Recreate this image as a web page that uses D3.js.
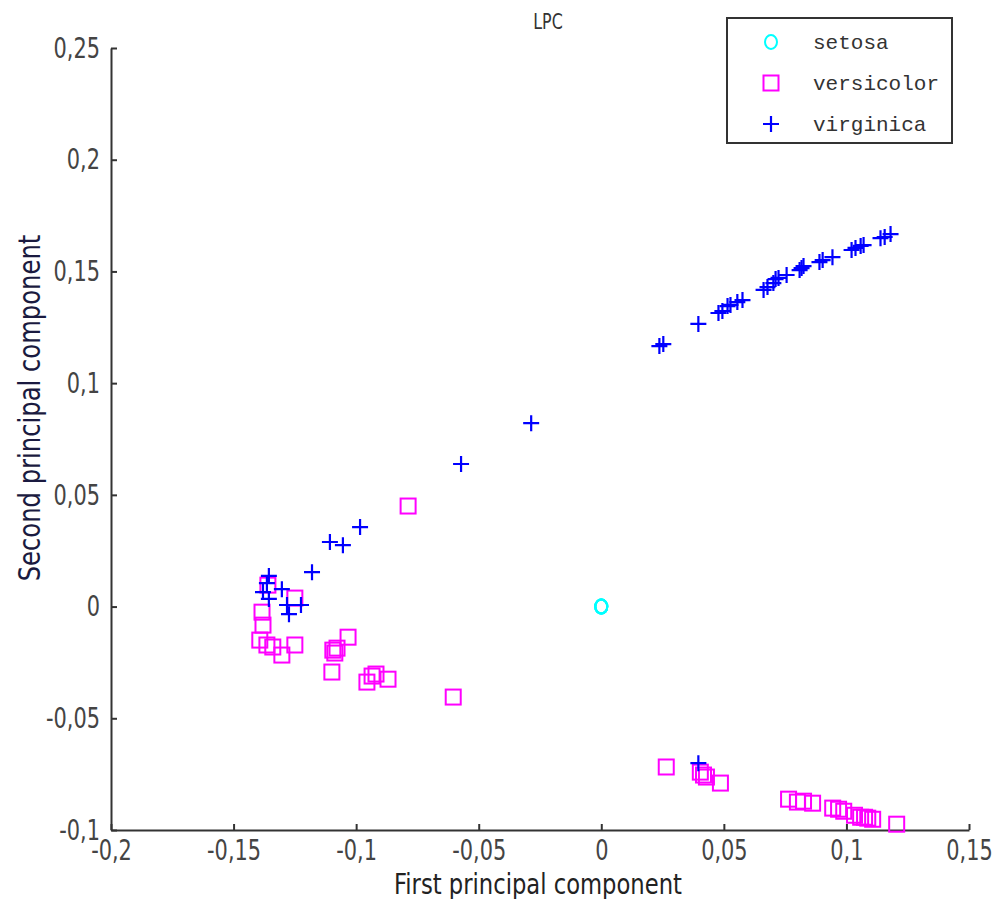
<!DOCTYPE html>
<html>
<head>
<meta charset="utf-8">
<script src="https://cdn.jsdelivr.net/npm/d3@7"></script>
<style>
  body { margin: 0; background: #fff; }
</style>
</head>
<body>
<div id="chart"></div>
<script>
// points, data units
var setosaX = [0, 0, 0, 0, 0];
var setosaY = [0, 0, 0, 0, 0];

var versicolorX = [-0.1360, -0.1250, -0.1384, -0.1380, -0.1393, -0.1364, -0.1340, -0.1303, -0.1250,
  -0.1095, -0.1087, -0.1078, -0.1033, -0.1099, -0.0956, -0.0935, -0.0919, -0.0870, -0.0788, -0.0604,
  0.0265, 0.0404, 0.0417, 0.0429, 0.0486, 0.0764, 0.0800, 0.0825, 0.0862, 0.0944, 0.0968, 0.0989,
  0.1033, 0.1058, 0.1074, 0.1087, 0.1107, 0.1205];
var versicolorY = [0.0096, 0.0038, -0.0025, -0.0083, -0.0150, -0.0172, -0.0181, -0.0217, -0.0172,
  -0.0195, -0.0208, -0.0186, -0.0137, -0.0293, -0.0338, -0.0311, -0.0302, -0.0325, 0.0450, -0.0405,
  -0.0718, -0.0741, -0.0754, -0.0763, -0.0790, -0.0862, -0.0875, -0.0871, -0.0880, -0.0902, -0.0907, -0.0916,
  -0.0934, -0.0943, -0.0943, -0.0947, -0.0952, -0.0974];

var virginicaX = [0.0237, 0.0253, 0.0396, 0.0478, 0.0494, 0.0515, 0.0527, 0.0555, 0.0576, 0.0662,
  0.0678, 0.0702, 0.0711, 0.0723, 0.0756, 0.0809, 0.0817, 0.0825, 0.0890, 0.0903, 0.0943, 0.1021,
  0.1037, 0.1058, 0.1070, 0.1139, 0.1156, 0.1180,
  -0.0286, -0.0572, -0.0984, -0.1107, -0.1054, -0.1180,
  -0.1356, -0.1364, -0.1380, -0.1303, -0.1356, -0.1282, -0.1225, -0.1274, 0.0396];
var virginicaY = [0.1166, 0.1175, 0.1265, 0.1314, 0.1323, 0.1345, 0.1350, 0.1363, 0.1372, 0.1417,
  0.1430, 0.1448, 0.1466, 0.1471, 0.1484, 0.1506, 0.1515, 0.1524, 0.1542, 0.1551, 0.1564, 0.1596,
  0.1605, 0.1614, 0.1618, 0.1649, 0.1654, 0.1667,
  0.0821, 0.0638, 0.0356, 0.0289, 0.0275, 0.0154,
  0.0137, 0.0105, 0.0065, 0.0078, 0.0034, 0.0007, 0.0007, -0.0034, -0.0701];

var xTicks = [-0.2, -0.15, -0.1, -0.05, 0, 0.05, 0.1, 0.15];
var yTicks = [-0.1, -0.05, 0, 0.05, 0.1, 0.15, 0.2, 0.25];
var seriesNames = ["setosa", "versicolor", "virginica"];

var W = 998, H = 899;
var mLeft = 111, mRight = 969, mTop = 48, mBottom = 830;
var narrow = "'Liberation Sans Narrow', 'DejaVu Sans Condensed', 'DejaVu Sans', sans-serif";
var squeeze = 0.8; // the original text is tall and narrow

var svg = d3.select("#chart").append("svg")
  .attr("width", W).attr("height", H);

var x = d3.scaleLinear().domain([-0.2, 0.15]).range([mLeft, mRight]);
var y = d3.scaleLinear().domain([-0.1, 0.25]).range([mBottom, mTop]);

// comma decimals like the original
var loc = d3.formatLocale({decimal: ",", thousands: ".", grouping: [3], currency: ["", ""], minus: "-"});
var fmt = loc.format("~g");

var gx = svg.append("g")
  .attr("transform", "translate(0," + mBottom + ")")
  .call(d3.axisBottom(x).tickValues(xTicks).tickFormat(fmt).tickSizeInner(-6).tickSizeOuter(0).tickPadding(9));
var gy = svg.append("g")
  .attr("transform", "translate(" + mLeft + ",0)")
  .call(d3.axisLeft(y).tickValues(yTicks).tickFormat(fmt).tickSizeInner(-6).tickSizeOuter(0).tickPadding(11));

[gx, gy].forEach(function(g) {
  g.select(".domain").attr("stroke", "#333").attr("stroke-width", 2);
  g.selectAll(".tick line").attr("stroke", "#333").attr("stroke-width", 2);
  g.selectAll(".tick text").attr("fill", "#444")
    .style("font-family", narrow).style("font-size", "29px");
});
gx.selectAll(".tick text").attr("transform", "scale(" + squeeze + ",1)");
gy.selectAll(".tick text").attr("x", -11 / squeeze).attr("transform", "scale(" + squeeze + ",1)");

// title + axis labels
svg.append("text").attr("transform", "translate(548,29) scale(" + squeeze + ",1)").attr("text-anchor", "middle")
  .style("font-family", narrow).style("font-size", "22px").attr("fill", "#333").text("LPC");
svg.append("text").attr("transform", "translate(538,894) scale(0.9,1)").attr("text-anchor", "middle")
  .style("font-family", narrow).style("font-size", "28px").attr("fill", "#222").text("First principal component");
svg.append("text").attr("transform", "translate(40,408) rotate(-90) scale(0.9,1)").attr("text-anchor", "middle")
  .style("font-family", narrow).style("font-size", "30px").attr("fill", "#1a1a40").text("Second principal component");

var plot = svg.append("g");

// markers
function circleMark(sel, color) {
  sel.append("ellipse").attr("rx", 6).attr("ry", 7)
    .attr("fill", "none").attr("stroke", color).attr("stroke-width", 2);
}
function squareMark(sel, color) {
  sel.append("rect").attr("x", -7.5).attr("y", -7.5).attr("width", 15).attr("height", 15)
    .attr("fill", "none").attr("stroke", color).attr("stroke-width", 2);
}
function plusMark(sel, color) {
  sel.append("path").attr("d", "M-8,0H8M0,-8V8")
    .attr("fill", "none").attr("stroke", color).attr("stroke-width", 2.2);
}

var series = [
  {name: seriesNames[0], xs: setosaX, ys: setosaY, color: "#00ffff", mark: circleMark},
  {name: seriesNames[1], xs: versicolorX, ys: versicolorY, color: "#ff00ff", mark: squareMark},
  {name: seriesNames[2], xs: virginicaX, ys: virginicaY, color: "#0000ff", mark: plusMark}
];

series.forEach(function(s) {
  var pts = s.xs.map(function(v, i) { return [v, s.ys[i]]; });
  var g = plot.append("g").selectAll("g").data(pts).enter().append("g")
    .attr("transform", function(d) { return "translate(" + x(d[0]) + "," + y(d[1]) + ")"; });
  s.mark(g, s.color);
});

// legend
var lg = svg.append("g").attr("transform", "translate(727,18)");
lg.append("rect").attr("width", 225).attr("height", 125)
  .attr("fill", "#fff").attr("stroke", "#333").attr("stroke-width", 2);
series.forEach(function(s, i) {
  var row = lg.append("g").attr("transform", "translate(0," + (24 + i * 41) + ")");
  var m = row.append("g").attr("transform", "translate(44,0)");
  s.mark(m, s.color);
  row.append("text").attr("x", 86).attr("y", 0).attr("dy", "0.35em")
    .style("font-family", "'Liberation Mono', 'DejaVu Sans Mono', monospace").style("font-size", "21px")
    .attr("fill", "#333").text(s.name);
});
</script>
</body>
</html>
